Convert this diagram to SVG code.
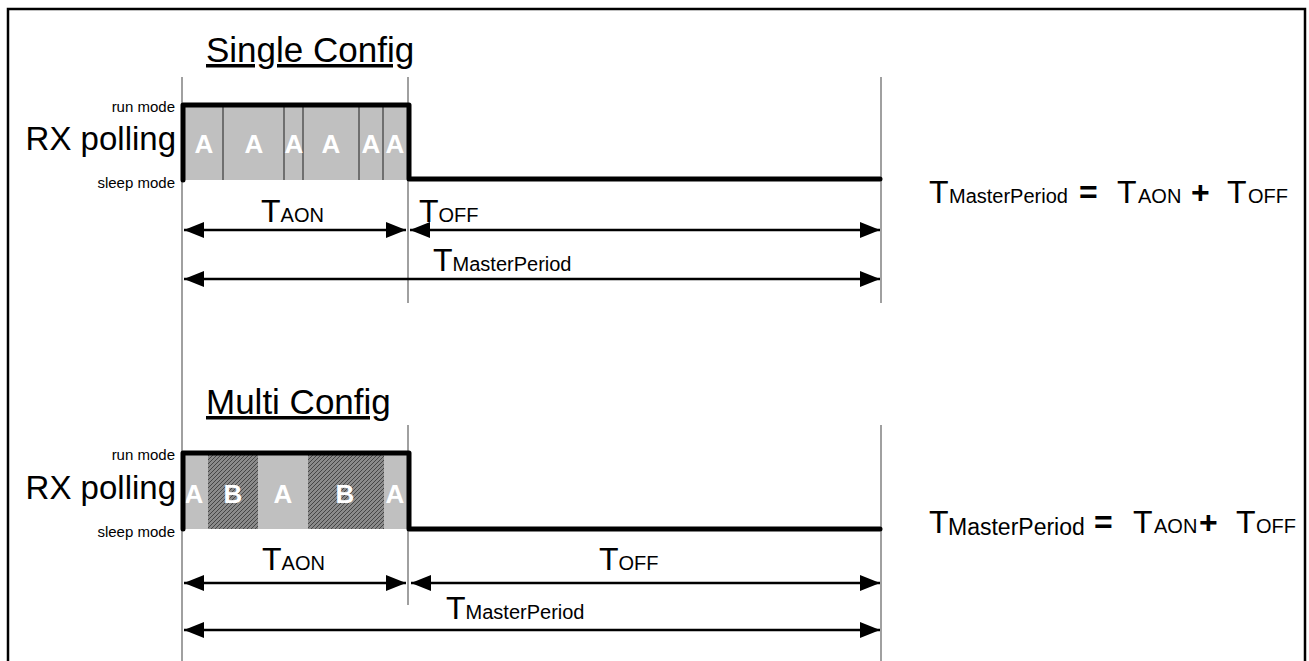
<svg xmlns="http://www.w3.org/2000/svg" width="1309" height="661" viewBox="0 0 1309 661">
<style>
text{font-family:"Liberation Sans",Arial,sans-serif;fill:#000}
.title{font-size:35px;text-decoration:underline}
.mode{font-size:15px;text-anchor:end}
.rx{font-size:33px;text-anchor:end}
.cell{font-size:26px;font-weight:bold;fill:#fff;text-anchor:middle}
.big{font-size:32px}
.sub{font-size:20px}
.op{font-size:32px;font-weight:bold}
.guide{stroke:#a0a0a0;stroke-width:2;fill:none}
.wave{stroke:#000;stroke-width:5;fill:none;stroke-linejoin:round;stroke-linecap:round}
.div{stroke:#555;stroke-width:1.5}
.arr{stroke:#000;stroke-width:2.5;fill:none;marker-start:url(#ah);marker-end:url(#ah)}
</style>
<defs>
<marker id="ah" viewBox="0 0 20 16" refX="20" refY="8" markerWidth="20" markerHeight="16" markerUnits="userSpaceOnUse" orient="auto-start-reverse">
<path d="M0,0 L20,8 L0,16 z" fill="#000"/>
</marker>
<pattern id="hatch" patternUnits="userSpaceOnUse" width="4" height="4">
<rect width="4" height="4" fill="#8a8a8a"/>
<path d="M-1,1 L1,-1 M0,4 L4,0 M3,5 L5,3" stroke="#333" stroke-width="0.8"/>
</pattern>
</defs>
<rect width="1309" height="661" fill="#fff"/>
<g id="frame"><path d="M8,670 L8,9 L1305,9 L1305,670" fill="none" stroke="#000" stroke-width="2.5"/></g>

<g id="guides">
<line class="guide" x1="182" y1="77" x2="182" y2="661"/>
<line class="guide" x1="408" y1="77" x2="408" y2="303"/>
<line class="guide" x1="881" y1="77" x2="881" y2="303"/>
<line class="guide" x1="408" y1="425" x2="408" y2="605"/>
<line class="guide" x1="881" y1="425" x2="881" y2="661"/>
</g>

<g id="single-config">
<text class="title" x="206" y="62">Single Config</text>
<text class="mode" x="175" y="112">run mode</text>
<text class="rx" x="176" y="150">RX polling</text>
<text class="mode" x="175" y="188">sleep mode</text>
<rect x="183" y="105" width="226" height="75" fill="#c0c0c0"/>
<line class="div" x1="223" y1="106" x2="223" y2="180"/>
<line class="div" x1="284" y1="106" x2="284" y2="180"/>
<line class="div" x1="303" y1="106" x2="303" y2="180"/>
<line class="div" x1="359" y1="106" x2="359" y2="180"/>
<line class="div" x1="383" y1="106" x2="383" y2="180"/>
<text class="cell" x="204" y="153">A</text>
<text class="cell" x="254" y="153">A</text>
<text class="cell" x="294" y="153">A</text>
<text class="cell" x="331" y="153">A</text>
<text class="cell" x="371" y="153">A</text>
<text class="cell" x="395" y="153">A</text>
<path class="wave" d="M183,180 L183,105 L409,105 L409,179 L880,179"/>
</g>

<g id="multi-config">
<text class="title" x="206" y="414">Multi Config</text>
<text class="mode" x="175" y="460">run mode</text>
<text class="rx" x="176" y="499">RX polling</text>
<text class="mode" x="175" y="537">sleep mode</text>
<rect x="183" y="453" width="226" height="76" fill="#c0c0c0"/>
<rect x="208" y="455" width="50" height="74" fill="url(#hatch)"/>
<rect x="308" y="455" width="76" height="74" fill="url(#hatch)"/>
<text class="cell" x="194" y="503">A</text>
<text class="cell" x="233" y="503">B</text>
<text class="cell" x="283" y="503">A</text>
<text class="cell" x="345" y="503">B</text>
<text class="cell" x="395" y="503">A</text>
<path class="wave" d="M183,529 L183,453 L409,453 L409,529 L880,529"/>
</g>

<g id="connectors">
<line class="arr" x1="184" y1="230" x2="406" y2="230"/>
<line class="arr" x1="410" y1="230" x2="880" y2="230"/>
<line class="arr" x1="184" y1="279" x2="880" y2="279"/>
<line class="arr" x1="184" y1="583" x2="406" y2="583"/>
<line class="arr" x1="411" y1="583" x2="880" y2="583"/>
<line class="arr" x1="184" y1="630" x2="880" y2="630"/>
</g>

<g id="labels-single">
<text class="big" x="261" y="222">T<tspan class="sub">AON</tspan></text>
<text class="big" x="419" y="222">T<tspan class="sub">OFF</tspan></text>
<text class="big" x="433" y="271">T<tspan class="sub">MasterPeriod</tspan></text>
</g>
<g id="labels-multi">
<text class="big" x="262" y="570">T<tspan class="sub">AON</tspan></text>
<text class="big" x="599" y="570">T<tspan class="sub">OFF</tspan></text>
<text class="big" x="446" y="619">T<tspan class="sub">MasterPeriod</tspan></text>
</g>

<g id="equation-single">
<text class="big" y="203"><tspan x="929">T</tspan><tspan class="sub" x="949">MasterPeriod</tspan><tspan class="op" x="1079">=</tspan><tspan x="1117">T</tspan><tspan class="sub" x="1138">AON</tspan><tspan class="op" x="1191">+</tspan><tspan x="1227">T</tspan><tspan class="sub" x="1248">OFF</tspan></text>
</g>
<g id="equation-multi">
<text class="big" y="533"><tspan x="929">T</tspan><tspan font-size="23px" x="948" dy="2">MasterPeriod</tspan><tspan class="op" x="1094" dy="-2">=</tspan><tspan x="1133">T</tspan><tspan class="sub" x="1154">AON</tspan><tspan class="op" x="1199">+</tspan><tspan x="1236">T</tspan><tspan class="sub" x="1256">OFF</tspan></text>
</g>
</svg>
